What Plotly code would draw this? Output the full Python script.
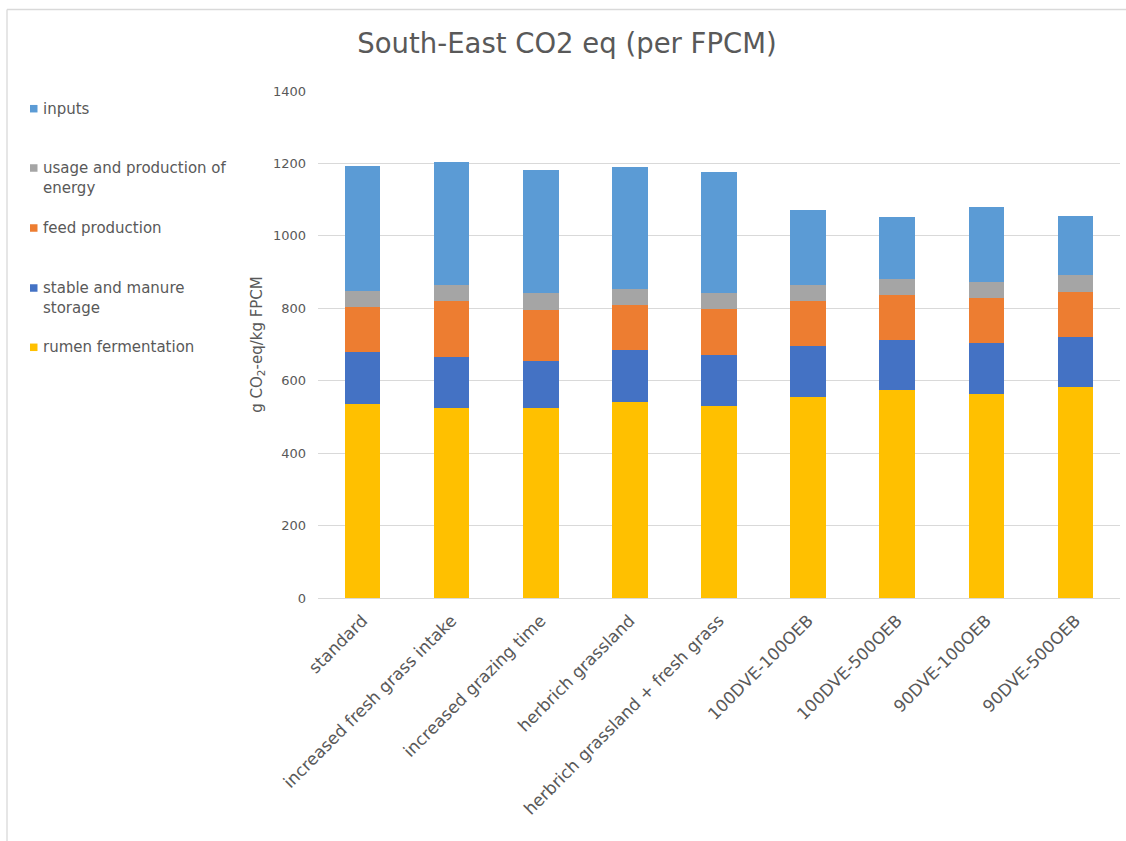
import plotly.graph_objects as go

# Scenario names (x categories)
scenarios = [
    "standard",
    "increased fresh grass intake",
    "increased grazing time",
    "herbrich grassland",
    "herbrich grassland + fresh grass",
    "100DVE-100OEB",
    "100DVE-500OEB",
    "90DVE-100OEB",
    "90DVE-500OEB",
]

# Emission sources, g CO2-eq per kg FPCM (stacked bottom to top)
rumen_fermentation = [536, 525, 525, 541, 530, 554, 575, 562, 584]
stable_manure = [144, 141, 130, 144, 141, 142, 138, 141, 136]
feed_production = [123, 154, 140, 124, 126, 124, 125, 125, 125]
energy = [44, 44, 47, 45, 45, 44, 44, 44, 46]
inputs = [346, 339, 339, 336, 333, 207, 170, 207, 164]

series_names = [
    "rumen fermentation",
    "stable and manure<br>storage",
    "feed production",
    "usage and production of<br>energy",
    "inputs",
]
series_values = [rumen_fermentation, stable_manure, feed_production, energy, inputs]
series_colors = ["#FFC000", "#4472C4", "#ED7D31", "#A5A5A5", "#5B9BD5"]

y_ticks = [0, 200, 400, 600, 800, 1000, 1200, 1400]

W, H = 1126, 841
ML, MR, MT, MB = 318, 6, 91, 243
PW, PH = W - ML - MR, H - MT - MB


def px_x(px):
    return (px - ML) / PW


def px_y(py):
    return (H - MB - py) / PH


TEXT = "#595959"
GRID = "#D9D9D9"
FONT = "DejaVu Sans"

fig = go.Figure()
for name, vals, col in zip(series_names, series_values, series_colors):
    fig.add_trace(go.Bar(
        x=scenarios, y=vals, name=name.replace("<br>", " "),
        marker=dict(color=col, line=dict(width=0)),
        showlegend=False,
    ))

fig.update_layout(
    width=W, height=H,
    barmode="stack", bargap=0.6,
    paper_bgcolor="white", plot_bgcolor="white",
    margin=dict(l=ML, r=MR, t=MT, b=MB, autoexpand=False),
    font=dict(family=FONT, color=TEXT),
    title=dict(
        text="South-East CO2 eq (per FPCM)",
        x=567 / W, xref="container", xanchor="center",
        y=1 - 43 / H, yref="container", yanchor="middle",
        font=dict(size=27.5, color=TEXT, family=FONT),
    ),
)

fig.update_yaxes(
    range=[0, 1400], tickvals=y_ticks, ticks="",
    showgrid=True, gridcolor=GRID, gridwidth=1.3,
    zeroline=False, showline=False, ticklabelstandoff=11,
    tickfont=dict(size=13, color=TEXT, family=FONT),
    title=dict(text="g CO<sub>2</sub>-eq/kg FPCM", standoff=6,
               font=dict(size=15, color=TEXT, family=FONT)),
    automargin=False,
)
fig.update_xaxes(
    tickangle=-45, ticks="", showline=True, linecolor=GRID, linewidth=1.3,
    ticklabelstandoff=5,
    tickfont=dict(size=16.8, color=TEXT, family=FONT),
    automargin=False,
)

# legend at the left: top entry is the top of the stack
key_rows = [347.3, 288, 228, 168, 108.7]   # row centres, px from top
KEY = 7.5
for name, col, yc in zip(series_names, series_colors, key_rows):
    fig.add_shape(type="rect", xref="paper", yref="paper",
                  x0=px_x(30), x1=px_x(30 + KEY),
                  y0=px_y(yc - KEY / 2), y1=px_y(yc + KEY / 2),
                  fillcolor=col, line=dict(width=0))
    lines = name.count("<br>") + 1
    fig.add_annotation(
        text=name, xref="paper", yref="paper",
        x=px_x(41), y=px_y(yc + (lines - 1) * 9.75),
        xanchor="left", yanchor="middle", align="left", showarrow=False,
        font=dict(size=15, color=TEXT, family=FONT),
    )

# chart-area border (top and left edges)
border = dict(color=GRID, width=1.3)
fig.add_shape(type="line", xref="paper", yref="paper",
              x0=px_x(7), x1=px_x(W + 2), y0=px_y(9.5), y1=px_y(9.5), line=border)
fig.add_shape(type="line", xref="paper", yref="paper",
              x0=px_x(7), x1=px_x(7), y0=px_y(9.5), y1=px_y(H + 2), line=border)

fig.write_html("out.html")
